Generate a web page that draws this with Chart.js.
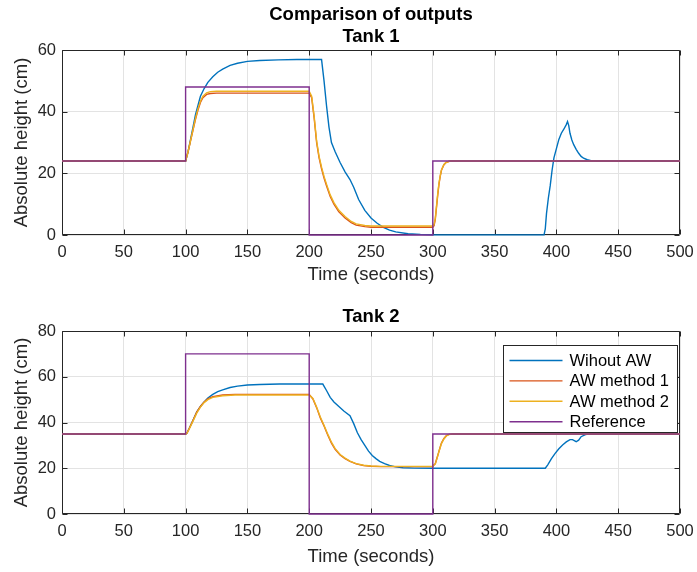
<!DOCTYPE html>
<html>
<head>
<meta charset="utf-8">
<script src="https://cdn.jsdelivr.net/npm/chart.js@4.4.1/dist/chart.umd.min.js"></script>
<style>
  html, body { margin: 0; padding: 0; background: #fff; }
  canvas { display: block; }
</style>
</head>
<body>
<canvas id="c1" width="697" height="290"></canvas>
<canvas id="c2" width="697" height="282"></canvas>
<script>
// ---------------- DATA ----------------
const seriesLabels = ['Wihout AW', 'AW method 1', 'AW method 2', 'Reference'];
const xTickStep = 50;
const xRange = [0, 500];
const yRange1 = [0, 60];
const yRange2 = [0, 80];
const yTickStep = 20;

// Tank 1
const t1NoAW = [0,100,102,104,106,108,110,112,115,118,122,126,130,136,142,150,160,175,190,210,212,214,216,218,221,225,229,233,236,240,245,250,255,260,265,270,280,290,300,350,390,391,392,393.5,395,396.5,398,400,402,404,406,408,409,410,411,412.5,414,416,418,420,422,425,428,432,500];
const y1NoAW = [24,24,27,31,35,39,42,45,47.5,49.5,51.3,52.8,53.8,55,55.7,56.3,56.6,56.8,56.9,56.9,50,42,35,30,27,23.5,20.5,18,15.5,11.5,8,5.5,3.8,2.5,1.6,1.0,0.4,0.2,0.1,0.05,0.05,2,7,12,16,21,25,28,31,33,34.3,35.8,36.8,35.5,33,30.8,29.3,27.8,26.5,25.5,24.9,24.4,24.1,24,24];

const t1AW1 = [0,100,102,104,106,108,110,112,114,117,120,125,200,202,204,206,208,210,212,214,217,220,224,229,234,238,245,250,300,301,302,303,304,305,306,307,309,311,314,500];
const y1AW1 = [24,24,27,30.5,34,37.5,40.5,43,44.5,45.6,45.9,46,46,44.5,38,30,25,21.5,18.5,16,12.5,10,7.5,5.5,4,3.2,2.7,2.5,2.5,3,5,9,13,16.5,19,21,22.8,23.6,24,24];

const t1AW2 = [0,100,102,104,106,108,110,112,114,117,120,125,200,202,204,206,208,210,212,214,217,220,224,229,234,238,245,250,300,301,302,303,304,305,306,307,309,311,314,500];
const y1AW2 = [24,24,27,30.6,34.2,37.8,40.9,43.4,45,46.1,46.5,46.6,46.6,45,38.5,30.5,25.5,22,19,16.5,13,10.5,8,6,4.4,3.6,3.1,2.9,2.9,3.4,5.4,9.4,13.4,16.8,19.2,21.1,22.9,23.6,24,24];

const t1Ref = [0,100,100,200,200,300,300,500];
const y1Ref = [24,24,48,48,0,0,24,24];

// Tank 2
const t2NoAW = [0,100,101,103,106,109,112,115,118,122,126,130,136,142,150,160,176,195,211,214,217,220,224,228,233,236,239,242,245,248,251,254,257,261,265,270,276,285,300,350,391,393,396,399,402,405,408,411,413,416,418,420,423,426,430,500];
const y2NoAW = [35,35,35.3,37.5,41,44.5,47,49,50.7,52.3,53.5,54.3,55.3,55.9,56.4,56.6,56.8,56.8,56.8,54,51,49,47,45,43,39.5,35.5,32.5,30,27.5,25.6,24.2,23,22,21.2,20.6,20.2,20.05,20,20,20,21.5,24.2,26.5,28.5,30.2,31.5,32.5,32.5,31.6,32.3,33.8,34.6,35,35,35];

const t2AW1 = [0,100,101,103,106,109,112,115,118,122,130,140,200,203,206,209,212,215,218,221,225,229,233,238,244,250,258,270,300,301,302,303,304,305,306,307,309,311,313,316,500];
const y2AW1 = [35,35,35.3,37.5,41,44.5,47,49,50.3,51.3,52,52.3,52.3,50.3,46.5,42,38.5,34.5,31,28.3,25.8,24.2,23,21.9,21.2,20.9,20.7,20.7,20.7,21.5,22,23.8,25.6,27.5,29.3,31,33,34.3,34.8,35,35];

const t2AW2 = [0,100,101,103,106,109,112,115,118,122,130,140,200,203,206,209,212,215,218,221,225,229,233,238,244,250,258,270,300,301,302,303,304,305,306,307,309,311,313,316,500];
const y2AW2 = [35,35,35.2,37.2,40.6,44.1,46.7,48.7,50,51,51.7,52,52,50.5,46.8,42.4,38.8,34.9,31.4,28.6,26,24.4,23.1,22,21.3,21,20.8,20.8,20.8,21.4,21.8,23.6,25.4,27.3,29.1,30.8,32.8,34.1,34.7,35,35];

const t2Ref = [0,100,100,200,200,300,300,500];
const y2Ref = [35,35,70,70,0,0,35,35];

// ---------------- STYLE ----------------
const colors = ['#0072BD', '#D95319', '#EDB120', '#7E2F8E'];
const FONT = '"Liberation Sans", Arial, Helvetica, sans-serif';
const axisColor = '#262626';
const gridColor = '#e3e3e3';
Chart.defaults.font.family = FONT;
Chart.defaults.color = axisColor;

function pts(t, y) { return t.map((v, i) => ({ x: v, y: y[i] })); }

function makeDatasets(list) {
  return list.map((s, i) => ({
    label: seriesLabels[i],
    data: pts(s[0], s[1]),
    borderColor: colors[i],
    backgroundColor: colors[i],
    borderWidth: 1.4,
    pointRadius: 0,
    showLine: true,
    tension: 0,
    clip: 3,
    order: 3 - i
  }));
}

// box + inward ticks (MATLAB style)
const framePlugin = {
  id: 'frame',
  beforeDatasetsDraw(chart) {
    const { ctx, chartArea: a, scales: { x, y } } = chart;
    const L = Math.round(a.left) + 0.5, R = Math.round(a.right) - 0.5;
    const T = Math.round(a.top) + 0.5, B = Math.round(a.bottom) - 0.5;
    const tl = 5;
    ctx.save();
    ctx.strokeStyle = axisColor;
    ctx.lineWidth = 1;
    ctx.beginPath();
    ctx.rect(L, T, R - L, B - T);
    x.ticks.forEach(tk => {
      const px = Math.round(x.getPixelForValue(tk.value)) + 0.5;
      ctx.moveTo(px, B); ctx.lineTo(px, B - tl);
      ctx.moveTo(px, T); ctx.lineTo(px, T + tl);
    });
    y.ticks.forEach(tk => {
      const py = Math.round(y.getPixelForValue(tk.value)) + 0.5;
      ctx.moveTo(L, py); ctx.lineTo(L + tl, py);
      ctx.moveTo(R, py); ctx.lineTo(R - tl, py);
    });
    ctx.stroke();
    ctx.restore();
  }
};

// boxed legend inside the plot area (top-right)
const boxLegendPlugin = {
  id: 'boxLegend',
  afterDraw(chart, args, opts) {
    if (!opts || !opts.show) return;
    const { ctx, chartArea: a } = chart;
    const items = chart.data.datasets.map(d => ({ label: d.label, color: d.borderColor, w: d.borderWidth }));
    ctx.save();
    ctx.font = '16.5px ' + FONT;
    const tw = Math.max(...items.map(i => ctx.measureText(i.label).width));
    const lineLen = 53, padL = 6, gap = 7, padR = 9, rowH = 20.4, padT = 15, padB = 11;
    const w = Math.round(padL + lineLen + gap + tw + padR);
    const h = Math.round(padT + rowH * (items.length - 1) + padB);
    const x0 = Math.round(a.right - 3 - w) + 0.5, y0 = Math.round(a.top + 14) + 0.5;
    ctx.fillStyle = '#fff';
    ctx.fillRect(x0, y0, w, h);
    ctx.strokeStyle = axisColor;
    ctx.lineWidth = 1;
    ctx.strokeRect(x0, y0, w, h);
    items.forEach((it, i) => {
      const cy = y0 + padT + i * rowH;
      ctx.strokeStyle = it.color;
      ctx.lineWidth = it.w;
      ctx.beginPath();
      ctx.moveTo(x0 + padL, cy);
      ctx.lineTo(x0 + padL + lineLen, cy);
      ctx.stroke();
      ctx.fillStyle = '#000';
      ctx.textBaseline = 'middle';
      ctx.textAlign = 'left';
      ctx.fillText(it.label, x0 + padL + lineLen + gap, cy + 1);
    });
    ctx.restore();
  }
};

function makeChart(id, datasets, yRange, title, titlePad, xHeight, showLegend) {
  return new Chart(document.getElementById(id), {
    type: 'scatter',
    data: { datasets },
    plugins: [framePlugin, boxLegendPlugin],
    options: {
      responsive: false,
      animation: false,
      layout: { padding: { top: 0, right: 17, left: 0, bottom: 0 } },
      plugins: {
        legend: { display: false },
        tooltip: { enabled: false },
        title: {
          display: true,
          text: title,
          fullSize: false,
          color: '#000',
          font: { size: 18.5, weight: 'bold', lineHeight: 1.2 },
          padding: titlePad
        },
        boxLegend: { show: showLegend }
      },
      scales: {
        x: {
          type: 'linear',
          min: xRange[0], max: xRange[1],
          ticks: { stepSize: xTickStep, font: { size: 16.5 }, color: axisColor, padding: 8, maxRotation: 0 },
          grid: { color: gridColor, drawTicks: false, lineWidth: 1 },
          border: { display: false },
          title: { display: true, text: 'Time (seconds)', font: { size: 18.5 }, color: axisColor, padding: { top: 0, bottom: 3.5 } },
          afterFit(s) { s.height = xHeight; s.paddingLeft = 0; s.paddingRight = 0; }
        },
        y: {
          type: 'linear',
          min: yRange[0], max: yRange[1],
          ticks: { stepSize: yTickStep, font: { size: 16.5 }, color: axisColor, padding: 6 },
          grid: { color: gridColor, drawTicks: false, lineWidth: 1 },
          border: { display: false },
          title: { display: true, text: 'Absolute height (cm)', font: { size: 18.5 }, color: axisColor, padding: { top: 11, bottom: 0 } },
          afterFit(s) { s.width = 62; }
        }
      }
    }
  });
}

makeChart('c1',
  makeDatasets([[t1NoAW, y1NoAW], [t1AW1, y1AW1], [t1AW2, y1AW2], [t1Ref, y1Ref]]),
  yRange1, ['Comparison of outputs', 'Tank 1'], { top: 4, bottom: 1.6 }, 55, false);

makeChart('c2',
  makeDatasets([[t2NoAW, y2NoAW], [t2AW1, y2AW1], [t2AW2, y2AW2], [t2Ref, y2Ref]]),
  yRange2, 'Tank 2', { top: 16, bottom: 2.8 }, 58, true);
</script>
</body>
</html>
